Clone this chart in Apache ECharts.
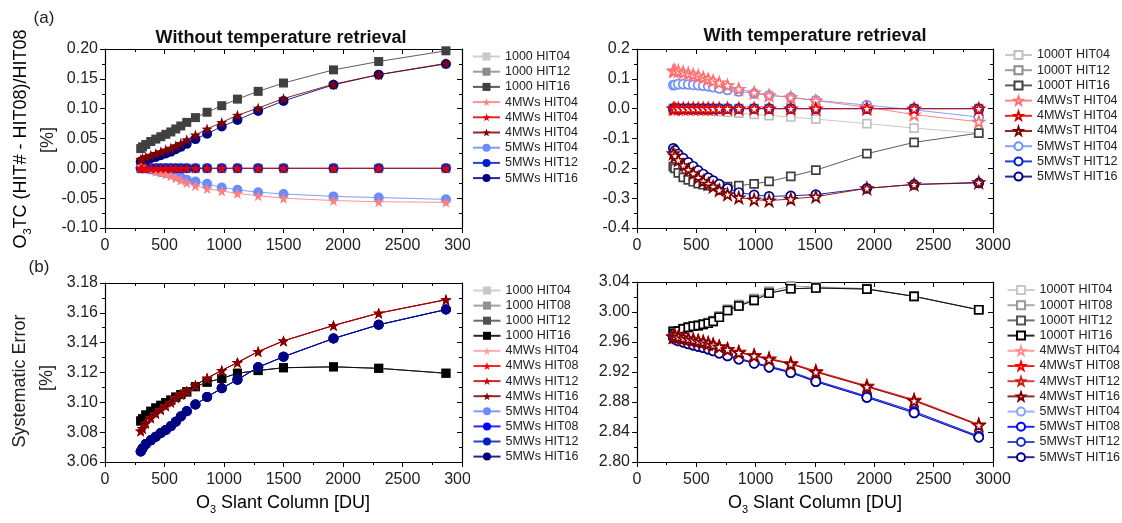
<!DOCTYPE html>
<html><head><meta charset="utf-8">
<script src="https://cdn.jsdelivr.net/npm/echarts@6/dist/echarts.min.js"></script>
<style>html,body{margin:0;padding:0;background:#fff}#c{width:1122px;height:523px}</style>
</head><body><div id="c"></div>
<script>
// ---------- data ----------
const xLeft  = [300, 315, 343, 385, 427, 469, 511, 553, 595, 637, 687, 760, 858, 981, 1113, 1287, 1500, 1920, 2300, 2865];
const xRight = [306, 320, 348, 390, 432, 474, 516, 558, 600, 642, 693, 763, 858, 987, 1113, 1296, 1507, 1937, 2335, 2880];
const zeros  = [0, 0, 0, 0, 0, 0, 0, 0, 0, 0, 0, 0, 0, 0, 0, 0, 0, 0, 0, 0];

// (a) left: without temperature retrieval, relative difference [%]
const a1000_16 = [0.033, 0.036, 0.040, 0.045, 0.049, 0.053, 0.057, 0.061, 0.066, 0.071, 0.077, 0.085, 0.094, 0.105, 0.116, 0.129, 0.143, 0.165, 0.179, 0.197];
const a4MWs_16 = [0.015, 0.017, 0.019, 0.022, 0.025, 0.028, 0.031, 0.034, 0.038, 0.042, 0.048, 0.056, 0.066, 0.077, 0.089, 0.101, 0.117, 0.141, 0.157, 0.176];
const a5MWs_16 = [0.011, 0.012, 0.014, 0.017, 0.019, 0.022, 0.025, 0.028, 0.032, 0.036, 0.041, 0.049, 0.058, 0.070, 0.081, 0.096, 0.113, 0.140, 0.157, 0.175];
const a4MWs_04 = [0.004, 0.002, 0.000, -0.002, -0.005, -0.007, -0.010, -0.013, -0.016, -0.020, -0.024, -0.029, -0.034, -0.038, -0.042, -0.046, -0.050, -0.054, -0.056, -0.057];
const a5MWs_04 = [0.002, 0.001, 0.000, -0.002, -0.004, -0.006, -0.008, -0.010, -0.013, -0.015, -0.019, -0.022, -0.026, -0.032, -0.036, -0.040, -0.043, -0.047, -0.049, -0.052];

// (a) right: with temperature retrieval
const b1000_04 = [0, 0, 0, -0.001, -0.002, -0.003, -0.004, -0.005, -0.006, -0.007, -0.009, -0.012, -0.015, -0.019, -0.023, -0.028, -0.035, -0.050, -0.065, -0.082];
const b1000_16 = [-0.194, -0.200, -0.215, -0.230, -0.239, -0.245, -0.251, -0.255, -0.258, -0.260, -0.261, -0.261, -0.258, -0.252, -0.244, -0.227, -0.206, -0.151, -0.113, -0.082];
const b4MWs_04 = [0.127, 0.128, 0.126, 0.122, 0.118, 0.114, 0.110, 0.104, 0.099, 0.093, 0.087, 0.078, 0.066, 0.054, 0.045, 0.038, 0.027, 0.005, -0.020, -0.044];
const b5MWs_04 = [0.079, 0.080, 0.082, 0.082, 0.081, 0.080, 0.079, 0.077, 0.075, 0.072, 0.068, 0.063, 0.058, 0.051, 0.045, 0.038, 0.028, 0.012, -0.004, -0.028];
const b4MWs_16 = [-0.150, -0.158, -0.172, -0.190, -0.205, -0.217, -0.231, -0.243, -0.252, -0.261, -0.273, -0.287, -0.298, -0.305, -0.308, -0.303, -0.295, -0.267, -0.254, -0.247];
const b5MWs_16 = [-0.133, -0.140, -0.152, -0.166, -0.180, -0.193, -0.207, -0.219, -0.231, -0.241, -0.253, -0.267, -0.281, -0.289, -0.294, -0.292, -0.288, -0.267, -0.254, -0.249];

// (b) left: systematic error [%]
const c1000 = [3.0875, 3.0890, 3.0915, 3.0940, 3.0962, 3.0980, 3.0998, 3.1015, 3.1035, 3.1052, 3.1070, 3.1105, 3.1135, 3.1160, 3.1195, 3.1213, 3.1232, 3.1238, 3.1228, 3.1195];
const c4MWs = [3.0808, 3.0825, 3.0860, 3.0895, 3.0925, 3.0950, 3.0975, 3.1000, 3.1030, 3.1055, 3.1075, 3.1115, 3.1162, 3.1214, 3.1267, 3.1340, 3.1412, 3.1515, 3.1598, 3.1688];
const c5MWs = [3.0670, 3.0690, 3.0720, 3.0745, 3.0770, 3.0795, 3.0815, 3.0840, 3.0870, 3.0905, 3.0940, 3.0985, 3.1036, 3.1094, 3.1152, 3.1235, 3.1306, 3.1428, 3.1520, 3.1622];

// (b) right
const d1000_lo = [2.9740, 2.9715, 2.9745, 2.9775, 2.9795, 2.9810, 2.9818, 2.9835, 2.9850, 2.9875, 2.9930, 3.0020, 3.0080, 3.0155, 3.0250, 3.0310, 3.0320, 3.0306, 3.0208, 3.0030];
const d1000_hi = [2.9745, 2.9720, 2.9750, 2.9780, 2.9800, 2.9815, 2.9825, 2.9842, 2.9860, 2.9885, 2.9945, 3.0035, 3.0098, 3.0178, 3.0275, 3.0345, 3.0335, 3.0312, 3.0210, 3.0030];
const d4MWs_lo = [2.9670, 2.9680, 2.9665, 2.9650, 2.9640, 2.9625, 2.9612, 2.9598, 2.9580, 2.9560, 2.9535, 2.9500, 2.9460, 2.9415, 2.9370, 2.9307, 2.9200, 2.9004, 2.8817, 2.8491];
const d4MWs_hi = [2.9672, 2.9682, 2.9668, 2.9654, 2.9644, 2.9630, 2.9617, 2.9603, 2.9586, 2.9566, 2.9541, 2.9507, 2.9468, 2.9424, 2.9380, 2.9318, 2.9212, 2.9015, 2.8830, 2.8500];
const d5MWs_lo = [2.9660, 2.9637, 2.9615, 2.9597, 2.9575, 2.9557, 2.9540, 2.9525, 2.9505, 2.9482, 2.9450, 2.9414, 2.9370, 2.9316, 2.9263, 2.9191, 2.9071, 2.8861, 2.8655, 2.8330];
const d5MWs_hi = [2.9662, 2.9640, 2.9619, 2.9601, 2.9580, 2.9562, 2.9546, 2.9531, 2.9512, 2.9490, 2.9459, 2.9424, 2.9381, 2.9328, 2.9276, 2.9205, 2.9086, 2.8877, 2.8675, 2.8345];

// axis ranges / ticks
const xTicks = {min: 0, max: 3000, interval: 500};
const yRanges = [
  {min: -0.10, max: 0.20, interval: 0.05, dec: 2},
  {min: -0.4, max: 0.2, interval: 0.1, dec: 1},
  {min: 3.06, max: 3.18, interval: 0.02, dec: 2},
  {min: 2.80, max: 3.04, interval: 0.04, dec: 2}
];

// ---------- styling ----------
const FONT = '"Liberation Sans", Arial, sans-serif';
const STAR = 'path://M0,-10L2.35,-3.24L9.51,-3.09L3.8,1.24L5.88,8.09L0,4L-5.88,8.09L-3.8,1.24L-9.51,-3.09L-2.35,-3.24Z';
const grids = [
  {left: 105, top: 49, width: 357, height: 179},
  {left: 637, top: 49, width: 356, height: 179},
  {left: 105, top: 283, width: 357, height: 179},
  {left: 637, top: 282, width: 356, height: 180}
];

function ser(id, label, g, xs, ys, sym, size, color, hollow) {
  return {
    type: 'line', name: id + '|' + label, xAxisIndex: 2 * g, yAxisIndex: 2 * g,
    data: xs.map((x, i) => [x, ys[i]]),
    symbol: sym === 'star' ? STAR : sym, symbolSize: size, showSymbol: true,
    lineStyle: {color: color, width: 1, opacity: 0.85},
    itemStyle: hollow ? {color: '#fff', borderColor: color, borderWidth: 1.7} : {color: color, borderWidth: 0},
    emphasis: {disabled: true}, animation: false, clip: false
  };
}

const S = [];
const p0 = [
  ser('a1', '1000 HIT04', 0, xLeft, zeros, 'rect', 9, '#c8c8c8'),
  ser('a2', '1000 HIT12', 0, xLeft, zeros, 'rect', 9, '#8c8c8c'),
  ser('a3', '1000 HIT16', 0, xLeft, a1000_16, 'rect', 9, '#404040'),
  ser('a7', '5MWs HIT04', 0, xLeft, a5MWs_04, 'circle', 10, '#6b8cff'),
  ser('a8', '5MWs HIT12', 0, xLeft, zeros, 'circle', 10, '#0020d0'),
  ser('a9', '5MWs HIT16', 0, xLeft, a5MWs_16, 'circle', 10, '#000080'),
  ser('a4', '4MWs HIT04', 0, xLeft, a4MWs_04, 'star', 11, '#ff8080'),
  ser('a5', '4MWs HIT04', 0, xLeft, zeros, 'star', 11, '#e00000'),
  ser('a6', '4MWs HIT04', 0, xLeft, a4MWs_16, 'star', 11, '#800000')
];
const p1 = [
  ser('b1', '1000T HIT04', 1, xRight, b1000_04, 'rect', 8, '#c0c0c0', true),
  ser('b2', '1000T HIT12', 1, xRight, zeros, 'rect', 8, '#8c8c8c', true),
  ser('b3', '1000T HIT16', 1, xRight, b1000_16, 'rect', 8, '#404040', true),
  ser('b7', '5MWsT HIT04', 1, xRight, b5MWs_04, 'circle', 9, '#7090ff', true),
  ser('b8', '5MWsT HIT12', 1, xRight, zeros, 'circle', 9, '#0020d0', true),
  ser('b9', '5MWsT HIT16', 1, xRight, b5MWs_16, 'circle', 9, '#000090', true),
  ser('b4', '4MWsT HIT04', 1, xRight, b4MWs_04, 'star', 11, '#ff7070', true),
  ser('b5', '4MWsT HIT04', 1, xRight, zeros, 'star', 11, '#e00000', true),
  ser('b6', '4MWsT HIT04', 1, xRight, b4MWs_16, 'star', 11, '#800000', true)
];
const p2 = [
  ser('c1', '1000 HIT04', 2, xLeft, c1000, 'rect', 9, '#c8c8c8'),
  ser('c2', '1000 HIT08', 2, xLeft, c1000, 'rect', 9, '#909090'),
  ser('c3', '1000 HIT12', 2, xLeft, c1000, 'rect', 9, '#505050'),
  ser('c4', '1000 HIT16', 2, xLeft, c1000, 'rect', 9, '#000000'),
  ser('c9', '5MWs HIT04', 2, xLeft, c5MWs, 'circle', 10, '#6b8cff'),
  ser('c10', '5MWs HIT08', 2, xLeft, c5MWs, 'circle', 10, '#0000ff'),
  ser('c11', '5MWs HIT12', 2, xLeft, c5MWs, 'circle', 10, '#0020c0'),
  ser('c12', '5MWs HIT16', 2, xLeft, c5MWs, 'circle', 10, '#000080'),
  ser('c5', '4MWs HIT04', 2, xLeft, c4MWs, 'star', 11, '#ffa0a0'),
  ser('c6', '4MWs HIT08', 2, xLeft, c4MWs, 'star', 11, '#ff0000'),
  ser('c7', '4MWs HIT12', 2, xLeft, c4MWs, 'star', 11, '#cc0000'),
  ser('c8', '4MWs HIT16', 2, xLeft, c4MWs, 'star', 11, '#800000')
];
const p3 = [
  ser('d1', '1000T HIT04', 3, xRight, d1000_hi, 'rect', 8, '#c8c8c8', true),
  ser('d2', '1000T HIT08', 3, xRight, d1000_hi, 'rect', 8, '#999999', true),
  ser('d3', '1000T HIT12', 3, xRight, d1000_lo, 'rect', 8, '#555555', true),
  ser('d4', '1000T HIT16', 3, xRight, d1000_lo, 'rect', 8, '#000000', true),
  ser('d9', '5MWsT HIT04', 3, xRight, d5MWs_hi, 'circle', 9, '#8aa0ff', true),
  ser('d10', '5MWsT HIT08', 3, xRight, d5MWs_hi, 'circle', 9, '#0000ff', true),
  ser('d11', '5MWsT HIT12', 3, xRight, d5MWs_lo, 'circle', 9, '#1030c0', true),
  ser('d12', '5MWsT HIT16', 3, xRight, d5MWs_lo, 'circle', 9, '#000090', true),
  ser('d5', '4MWsT HIT04', 3, xRight, d4MWs_hi, 'star', 11, '#ff9090', true),
  ser('d6', '4MWsT HIT08', 3, xRight, d4MWs_hi, 'star', 11, '#ff0000', true),
  ser('d7', '4MWsT HIT12', 3, xRight, d4MWs_lo, 'star', 11, '#cc2020', true),
  ser('d8', '4MWsT HIT16', 3, xRight, d4MWs_lo, 'star', 11, '#800000', true)
];
S.push(...p0, ...p1, ...p2, ...p3);

function legendOrder(list, prefix, n) {
  const out = [];
  for (let i = 1; i <= n; i++) {
    const s = list.find(s => s.name.startsWith(prefix + i + '|'));
    out.push(s.name);
  }
  return out;
}
function leg(names, left, top, gap) {
  return {
    data: names, left: left, top: top, orient: 'vertical',
    itemWidth: 27, itemHeight: 10, itemGap: gap, padding: [0, 2, 0, 3],
    backgroundColor: '#fff', selectedMode: false, z: 10,
    textStyle: {fontFamily: FONT, fontSize: 12.5, color: '#222', lineHeight: 13},
    formatter: n => n.split('|')[1]
  };
}

const xAxes = [], yAxes = [];
grids.forEach((g, i) => {
  const yr = yRanges[i];
  const base = {gridIndex: i, type: 'value', splitLine: {show: false}};
  xAxes.push(Object.assign({}, base, xTicks, {
    position: 'bottom',
    axisLine: {onZero: false, lineStyle: {color: '#000', width: 1.2}},
    axisTick: {show: true, length: 5, lineStyle: {color: '#000'}},
    minorTick: {show: true, splitNumber: 2, length: 3, lineStyle: {color: '#000'}},
    axisLabel: {fontFamily: FONT, fontSize: 16, color: '#222', margin: 10, formatter: v => String(v)}
  }));
  xAxes.push(Object.assign({}, base, xTicks, {
    position: 'top',
    axisLine: {onZero: false, lineStyle: {color: '#000', width: 1.2}},
    axisTick: {show: true, inside: true, length: 5, lineStyle: {color: '#000'}},
    minorTick: {show: true, splitNumber: 2, length: 3, lineStyle: {color: '#000'}},
    axisLabel: {show: false}
  }));
  yAxes.push(Object.assign({}, base, {min: yr.min, max: yr.max, interval: yr.interval,
    position: 'left',
    axisLine: {onZero: false, lineStyle: {color: '#000', width: 1.2}},
    axisTick: {show: true, length: 5, lineStyle: {color: '#000'}},
    minorTick: {show: true, splitNumber: 2, length: 3, lineStyle: {color: '#000'}},
    axisLabel: {fontFamily: FONT, fontSize: 16, color: '#222', margin: 7,
      formatter: v => v.toFixed(yr.dec)}
  }));
  yAxes.push(Object.assign({}, base, {min: yr.min, max: yr.max, interval: yr.interval,
    position: 'right',
    axisLine: {onZero: false, lineStyle: {color: '#000', width: 1.2}},
    axisTick: {show: true, inside: true, length: 5, lineStyle: {color: '#000'}},
    minorTick: {show: true, splitNumber: 2, length: 3, lineStyle: {color: '#000'}},
    axisLabel: {show: false}
  }));
});

const rich = {
  m: {fontFamily: FONT, fontSize: 18, lineHeight: 24, color: '#222'},
  s: {fontFamily: FONT, fontSize: 11, lineHeight: 11, verticalAlign: 'bottom', color: '#222'}
};
function txt(x, y, text, size, extra) {
  return Object.assign({type: 'text', x: x, y: y, z: 20,
    style: Object.assign({text: text, fontFamily: FONT, fontSize: size, fill: '#222', align: 'center', verticalAlign: 'middle'}, (extra && extra.style) || {})},
    extra && extra.rotation ? {rotation: extra.rotation} : {});
}
const graphic = [
  // legend boxes overlap the end of the left panels' last x label, as in the source figure
  {type: 'rect', z: 50, shape: {x: 470, y: 236, width: 14, height: 22}, style: {fill: '#fff'}},
  {type: 'rect', z: 50, shape: {x: 470, y: 469, width: 14, height: 22}, style: {fill: '#fff'}},
  txt(44, 18, '(a)', 17),
  txt(39, 267, '(b)', 17),
  txt(281, 38, 'Without temperature retrieval', 18, {style: {fontWeight: 'bold', fill: '#111'}}),
  txt(815, 36, 'With temperature retrieval', 18, {style: {fontWeight: 'bold', fill: '#111'}}),
  {type: 'text', x: 21, y: 139, rotation: Math.PI / 2, z: 20,
    style: {text: '{m|O}{s|3}{m|TC (HIT# - HIT08)/HIT08}', rich: rich, align: 'center', verticalAlign: 'middle'}},
  txt(48, 140, '[%]', 18, {rotation: Math.PI / 2}),
  txt(20, 381, 'Systematic Error', 18, {rotation: Math.PI / 2}),
  txt(47, 378, '[%]', 18, {rotation: Math.PI / 2}),
  {type: 'text', x: 283, y: 503, z: 20,
    style: {text: '{m|O}{s|3}{m| Slant Column [DU]}', rich: rich, align: 'center', verticalAlign: 'middle'}},
  {type: 'text', x: 815, y: 503, z: 20,
    style: {text: '{m|O}{s|3}{m| Slant Column [DU]}', rich: rich, align: 'center', verticalAlign: 'middle'}}
];

const option = {
  animation: false,
  backgroundColor: '#fff',
  grid: grids,
  xAxis: xAxes,
  yAxis: yAxes,
  legend: [
    leg(legendOrder(p0, 'a', 9), 469, 50, 2.2),
    leg(legendOrder(p1, 'b', 9), 1001, 48.5, 2.2),
    leg(legendOrder(p2, 'c', 12), 469.5, 284, 2.1),
    leg(legendOrder(p3, 'd', 12), 1003.5, 283.5, 2.2)
  ],
  graphic: graphic,
  series: S
};
const chart = echarts.init(document.getElementById('c'), null, {renderer: 'canvas'});
chart.setOption(option);
</script></body></html>
